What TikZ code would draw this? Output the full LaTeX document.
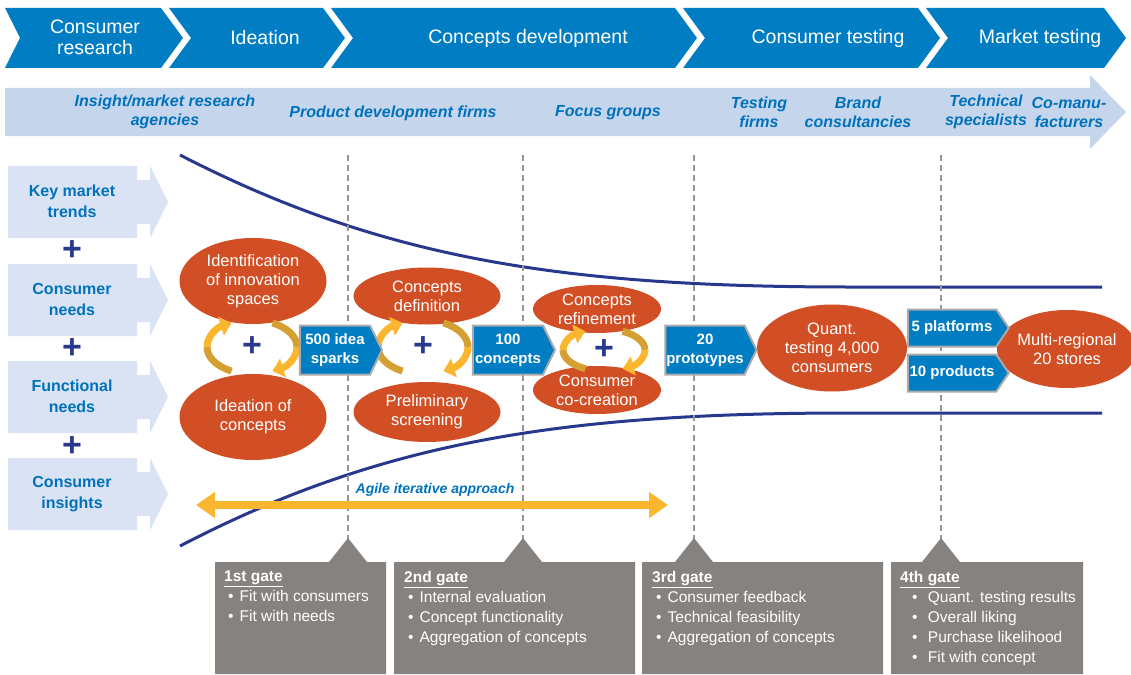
\documentclass[tikz,border=0pt]{standalone}
\usepackage{fontspec}
\setmainfont{Liberation Sans}
\usetikzlibrary{shapes.geometric,shapes.symbols,arrows.meta}

\definecolor{phaseblue}{RGB}{0,125,195}
\definecolor{bandblue}{RGB}{197,213,236}
\definecolor{driverblue}{RGB}{218,227,243}
\definecolor{labelblue}{RGB}{0,114,188}
\definecolor{funnelnavy}{RGB}{40,56,140}
\definecolor{ideared}{RGB}{210,79,37}
\definecolor{loopgold}{RGB}{251,182,47}
\definecolor{loopdark}{RGB}{212,160,50}
\definecolor{gategray}{RGB}{134,130,128}
\definecolor{rulegray}{RGB}{150,150,150}
\definecolor{edgegray}{RGB}{170,170,170}

\tikzset{
  phase/.style={fill=phaseblue},
  phaselabel/.style={text=white,align=center,font=\fontsize{19.5}{21}\selectfont},
  player/.style={text=labelblue,align=center,font=\fontsize{16}{19}\selectfont\bfseries\itshape},
  driver/.style={text=labelblue,align=center,font=\fontsize{16}{21}\selectfont\bfseries},
  plussign/.style={text=funnelnavy,inner sep=0pt,font=\fontsize{34}{34}\selectfont\bfseries},
  idea/.style={ellipse,fill=ideared,text=white,align=center,inner sep=0pt,font=\fontsize{16.5}{19}\selectfont},
  tally/.style={signal,signal to=east,fill=phaseblue,draw=edgegray,line width=2pt,text=white,align=center,inner sep=0pt,font=\fontsize{15}{19}\selectfont\bfseries},
  funnel/.style={funnelnavy,line width=3pt},
  gateline/.style={rulegray,line width=2.2pt,dash pattern=on 6pt off 4pt},
  gatenote/.style={text=white,align=left,anchor=north west,inner sep=0pt,font=\fontsize{15.5}{20}\selectfont},
  looptail/.style={loopdark,line width=7pt},
  loophead/.style={loopgold,line width=7pt,-{Triangle[width=19pt,length=11pt]}},
  agile/.style={loopgold,line width=8pt,{Triangle[width=25pt,length=19pt]}-{Triangle[width=25pt,length=19pt]}}
}
\newcommand{\gatehead}[1]{\underline{\textbf{#1}}}
\newcommand{\gatepoint}[1][4pt]{\hspace*{#1}\textbullet\hspace{6pt}}

\begin{document}
\begin{tikzpicture}[x=1pt,y=-1pt]
  \useasboundingbox (0,0) rectangle (1131,674);

  \fill[phase] (5,8) -- (161,8) -- (183,38) -- (161,68) -- (5,68) -- (20,38) -- cycle;
  \fill[phase] (169,8) -- (323,8) -- (345,38) -- (323,68) -- (169,68) -- (191,38) -- cycle;
  \fill[phase] (331,8) -- (675,8) -- (697,38) -- (675,68) -- (331,68) -- (353,38) -- cycle;
  \fill[phase] (683,8) -- (918,8) -- (940,38) -- (918,68) -- (683,68) -- (705,38) -- cycle;
  \fill[phase] (926,8) -- (1104,8) -- (1126,38) -- (1104,68) -- (926,68) -- (948,38) -- cycle;
  \node[phaselabel] (research) at (95,37) {Consumer\\research};
  \node[phaselabel] (ideation) at (265,38) {Ideation};
  \node[phaselabel] (development) at (528,38) {Concepts development};
  \node[phaselabel] (ctesting) at (828,38) {Consumer testing};
  \node[phaselabel] (mtesting) at (1040,38) {Market testing};

  \fill[bandblue] (5,88) -- (1090,88) -- (1090,75) -- (1126,112) -- (1090,149) -- (1090,136) -- (5,136) -- cycle;
  \node[player] (agencies) at (165,112) {Insight/market research\\agencies};
  \node[player] (firms) at (393,113) {Product development firms};
  \node[player] (focus) at (608,113) {Focus groups};
  \node[player] (testfirms) at (759,112) {Testing\\firms};
  \node[player] (brand) at (858,112) {Brand\\consultancies};
  \node[player] (technical) at (986,112) {Technical\\specialists};
  \node[player] (comanu) at (1069,112) {Co-manu-\\facturers};

  \foreach \y in {166,264,361,458}
    \fill[driverblue] (8,\y) -- ++(129,0) -- ++(0,14) -- ++(13,0) -- ++(0,-14) -- ++(18,36)
      -- ++(-18,36) -- ++(0,-14) -- ++(-13,0) -- ++(0,14) -- ++(-129,0) -- cycle;
  \node[driver] (trends) at (72,201) {Key market\\trends};
  \node[driver] (cneeds) at (72,299) {Consumer\\needs};
  \node[driver] (fneeds) at (72,396) {Functional\\needs};
  \node[driver] (insights) at (72,494) {Consumer\\insights};
  \node[plussign] (plus1) at (72,251) {+};
  \node[plussign] (plus2) at (72,349) {+};
  \node[plussign] (plus3) at (72,447) {+};

  \draw[funnel] (180,155) .. controls (380,258) and (560,287) .. (850,287) -- (1102,287);
  \draw[funnel] (180,546) .. controls (380,442) and (560,413) .. (850,413) -- (1102,413);

  \coordinate (top1) at (348,155);
  \coordinate (top2) at (523,155);
  \coordinate (top3) at (694,155);
  \coordinate (top4) at (941,155);
  \coordinate (tip1) at (348,540);
  \coordinate (tip2) at (523,540);
  \coordinate (tip3) at (694,540);
  \coordinate (tip4) at (941,540);
  \draw[gateline] (top1) -- (tip1);
  \draw[gateline] (top2) -- (tip2);
  \draw[gateline] (top3) -- (tip3);
  \draw[gateline] (top4) -- (tip4);

  \coordinate (agileL) at (196,505);
  \coordinate (agileR) at (668,505);
  \draw[agile] (agileL) -- (agileR);
  \node[player,font=\fontsize{14}{16}\selectfont\bfseries\itshape] (agiletext) at (435,490) {Agile iterative approach};

  \node[idea,minimum width=147pt,minimum height=86pt] (spaces) at (253,281) {Identification\\of innovation\\spaces};
  \node[idea,minimum width=147pt,minimum height=86pt] (ideating) at (253,417) {Ideation of\\concepts};
  \node[idea,minimum width=147pt,minimum height=57pt] (definition) at (427,296) {Concepts\\definition};
  \node[idea,minimum width=147pt,minimum height=60pt] (screening) at (427,412) {Preliminary\\screening};
  \node[idea,minimum width=128pt,minimum height=48pt] (refinement) at (597,309) {Concepts\\refinement};
  \node[idea,minimum width=128pt,minimum height=48pt] (cocreation) at (597,390) {Consumer\\co-creation};
  \node[idea,minimum width=150pt,minimum height=87pt] (quant) at (832,348) {Quant.\\testing 4,000\\consumers};
  \node[idea,minimum width=124pt,minimum height=78pt] (stores) at (1067,349) {Multi-regional\\20 stores};

  \foreach \cx/\cy/\rx/\ry/\n in {252/347/45/27/A,423/347/45/27/B,604/350/41/21/C} {
    \coordinate (loop\n) at (\cx,\cy);
    \draw[looptail] (loop\n) ++({\rx*cos(117)},{\ry*sin(117)}) arc[start angle=117,end angle=180,x radius=\rx,y radius=\ry];
    \draw[loophead] (loop\n) ++({-\rx},0) arc[start angle=180,end angle=243,x radius=\rx,y radius=\ry];
    \draw[looptail] (loop\n) ++({\rx*cos(63)},{-\ry*sin(63)}) arc[start angle=-63,end angle=0,x radius=\rx,y radius=\ry];
    \draw[loophead] (loop\n) ++(\rx,0) arc[start angle=0,end angle=63,x radius=\rx,y radius=\ry];
    \node[plussign] (plus\n) at (\cx,\cy) {+};
  }

  \node[tally,minimum width=82pt,minimum height=49pt,signal pointer angle=128] (sparks) at (335,350) {500 idea\\sparks};
  \node[tally,minimum width=82pt,minimum height=49pt,signal pointer angle=128] (hundred) at (508,350) {100\\concepts};
  \node[tally,minimum width=91pt,minimum height=49pt,signal pointer angle=128] (prototypes) at (705,350) {20\\prototypes};
  \node[tally,minimum width=101pt,minimum height=37pt,signal pointer angle=112] (platforms) at (952,328) {5 platforms};
  \node[tally,minimum width=101pt,minimum height=37pt,signal pointer angle=112] (products) at (952,373) {10 products};

  \fill[gategray] (215,562) -- (329,562) -- (348,538) -- (367,562) -- (386,562) -- (386,674) -- (215,674) -- cycle;
  \fill[gategray] (394,562) -- (504,562) -- (523,538) -- (542,562) -- (635,562) -- (635,674) -- (394,674) -- cycle;
  \fill[gategray] (642,562) -- (675,562) -- (694,538) -- (713,562) -- (883,562) -- (883,674) -- (642,674) -- cycle;
  \fill[gategray] (891,562) -- (922,562) -- (941,538) -- (960,562) -- (1083,562) -- (1083,674) -- (891,674) -- cycle;
  \node[gatenote] (gate1) at (224,571) {\gatehead{1st gate}\\\gatepoint Fit with consumers\\\gatepoint Fit with needs};
  \node[gatenote] (gate2) at (404,571) {\gatehead{2nd gate}\\\gatepoint Internal evaluation\\\gatepoint Concept functionality\\\gatepoint Aggregation of concepts};
  \node[gatenote] (gate3) at (652,571) {\gatehead{3rd gate}\\\gatepoint Consumer feedback\\\gatepoint Technical feasibility\\\gatepoint Aggregation of concepts};
  \node[gatenote] (gate4) at (900,571) {\gatehead{4th gate}\\\gatepoint[12pt] Quant. testing results\\\gatepoint[12pt] Overall liking\\\gatepoint[12pt] Purchase likelihood\\\gatepoint[12pt] Fit with concept};
\end{tikzpicture}
\end{document}
